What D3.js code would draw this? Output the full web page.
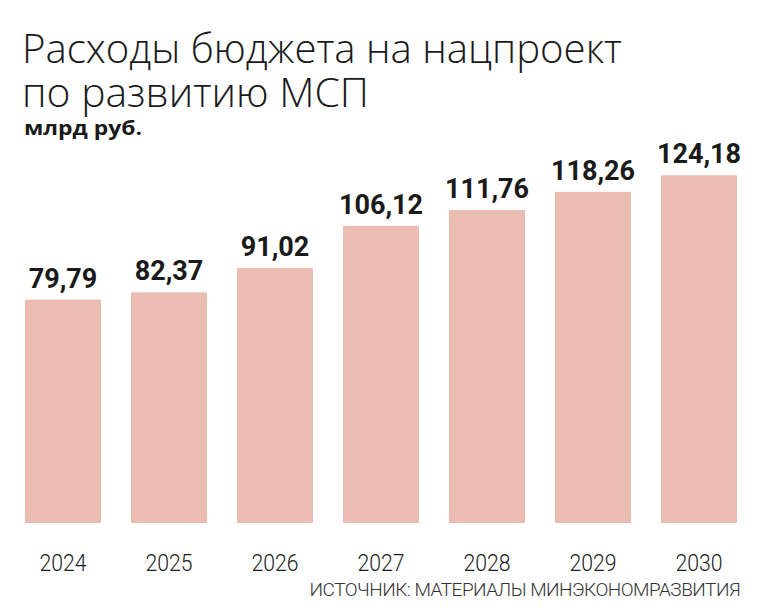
<!DOCTYPE html>
<html>
<head>
<meta charset="utf-8">
<script src="https://cdn.jsdelivr.net/npm/d3@7"></script>
<style>
  body { margin: 0; background: #fff; }
  svg { display: block; }
</style>
</head>
<body>
<svg id="main" width="760" height="614"></svg>
<script>
// data
var titleLines = ["Расходы бюджета на нацпроект", "по развитию МСП"];
var unitLabel = "млрд руб.";
var sourceText = "ИСТОЧНИК: МАТЕРИАЛЫ МИНЭКОНОМРАЗВИТИЯ";
var years = ["2024", "2025", "2026", "2027", "2028", "2029", "2030"];
var values = [79.79, 82.37, 91.02, 106.12, 111.76, 118.26, 124.18];

var svg = d3.select("#main");
var lightFont = "'Open Sans', 'Noto Sans', sans-serif";
var thinFont = "Roboto, 'Noto Sans', sans-serif";
var boldFont = "Roboto, 'Noto Sans', sans-serif";

// title
svg.append("text")
    .attr("x", 22).attr("y", 63)
    .attr("font-family", lightFont).attr("font-weight", 300)
    .attr("font-size", 41).attr("fill", "#1a1a1a")
    .attr("textLength", 600).attr("lengthAdjust", "spacingAndGlyphs")
    .text(titleLines[0]);
svg.append("text")
    .attr("x", 22).attr("y", 107)
    .attr("font-family", lightFont).attr("font-weight", 300)
    .attr("font-size", 41).attr("fill", "#1a1a1a")
    .attr("textLength", 347).attr("lengthAdjust", "spacingAndGlyphs")
    .text(titleLines[1]);
svg.append("text")
    .attr("x", 24).attr("y", 135)
    .attr("font-family", "'Open Sans', sans-serif").attr("font-weight", 700)
    .attr("font-size", 19).attr("fill", "#1a1a1a")
    .attr("textLength", 118).attr("lengthAdjust", "spacingAndGlyphs")
    .text(unitLabel);

// scales
var x = d3.scaleBand()
    .domain(years)
    .range([25, 737])
    .paddingInner(0.283)
    .paddingOuter(0);

var y = d3.scaleLinear()
    .domain([0, 130])
    .range([523, 159]);

var fmt = function(v){ return d3.format(".2f")(v).replace(".", ","); };

var data = years.map(function(d, i){ return {year: d, value: values[i]}; });

svg.append("g").selectAll("rect")
    .data(data)
    .enter()
    .append("rect")
    .attr("x", function(d){ return x(d.year); })
    .attr("y", function(d){ return y(d.value); })
    .attr("width", x.bandwidth())
    .attr("height", function(d){ return y(0) - y(d.value); })
    .attr("fill", "#ebbcb2");

svg.append("g").selectAll("text")
    .data(data)
    .enter()
    .append("text")
    .attr("x", function(d){ return x(d.year) + x.bandwidth()/2; })
    .attr("y", function(d){ return y(d.value) - 12; })
    .attr("text-anchor", "middle")
    .attr("font-family", boldFont).attr("font-weight", 700)
    .attr("font-size", 27).attr("fill", "#1a1a1a")
    .text(function(d){ return fmt(d.value); });

// year labels (axis without line/ticks)
var xAxis = svg.append("g")
    .attr("transform", "translate(0,523)")
    .call(d3.axisBottom(x).tickSize(0).tickPadding(0));
xAxis.select(".domain").remove();
xAxis.selectAll("text")
    .attr("y", 48).attr("dy", null)
    .attr("font-family", thinFont).attr("font-weight", 300)
    .attr("font-size", 24).attr("fill", "#1a1a1a")
    .attr("textLength", 47).attr("lengthAdjust", "spacingAndGlyphs");

// source
svg.append("text")
    .attr("x", 740).attr("y", 596)
    .attr("text-anchor", "end")
    .attr("font-family", thinFont).attr("font-weight", 300)
    .attr("font-size", 19).attr("letter-spacing", -0.5)
    .attr("fill", "#333")
    .text(sourceText);
</script>
</body>
</html>
